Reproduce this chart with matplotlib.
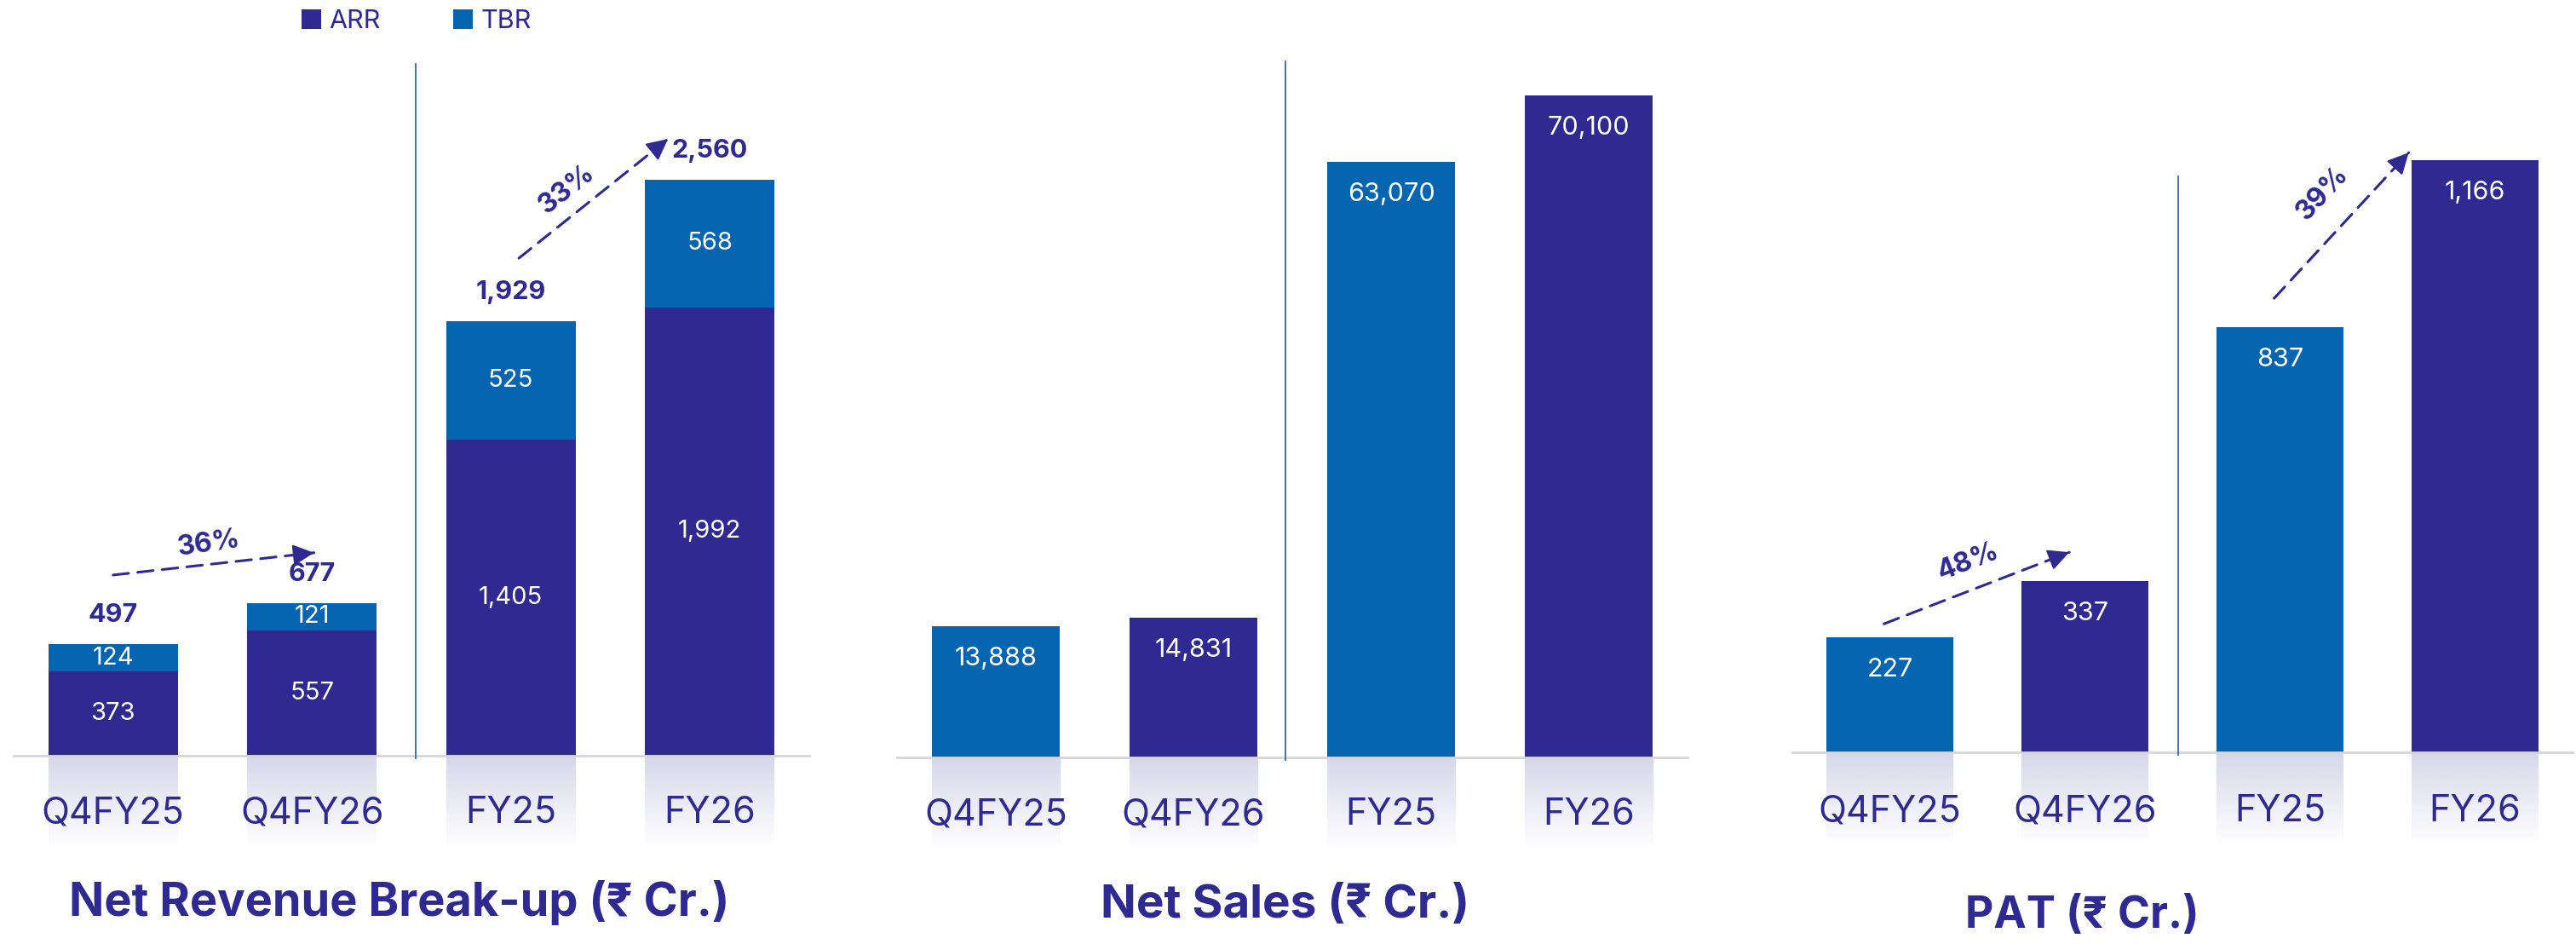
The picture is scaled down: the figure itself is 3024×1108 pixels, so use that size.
import numpy as np
import matplotlib
matplotlib.use('Agg')
import matplotlib.pyplot as plt
from matplotlib.patches import Patch

plt.rcParams['font.family'] = ['Inter', 'Noto Sans', 'DejaVu Sans']

DARK = '#2E2A92'
BLUE = '#0565B1'
AXIS_GRAY = '#D6D6DA'
DIV = '#3D66AE'

# ---------------- data ----------------
categories = ['Q4FY25', 'Q4FY26', 'FY25', 'FY26']
rev_arr = [373, 557, 1405, 1992]
rev_tbr = [124, 121, 525, 568]
rev_total = [497, 677, 1929, 2560]
net_sales = [13888, 14831, 63070, 70100]
pat = [227, 337, 837, 1166]
single_colors = [BLUE, DARK, BLUE, DARK]
rev_growth = ['36%', '33%']
pat_growth = ['48%', '39%']
titles = ['Net Revenue Break-up (₹ Cr.)', 'Net Sales (₹ Cr.)', 'PAT (₹ Cr.)']
legend_labels = ['ARR', 'TBR']

# ---------------- layout ----------------
W, H = 3024, 1108
PT = 0.72  # points per pixel at dpi 100
fig = plt.figure(figsize=(W / 100, H / 100), dpi=100)
fig.patch.set_facecolor('white')
BW = 0.65


def make_ax(left, width, baseline, scale):
    ax = fig.add_axes([left / W, (H - baseline) / H, width / W, baseline / H])
    ax.set_xlim(-0.5, 3.5)
    ax.set_ylim(0, baseline / scale)
    for s in ['top', 'right', 'left']:
        ax.spines[s].set_visible(False)
    ax.spines['bottom'].set_color(AXIS_GRAY)
    ax.spines['bottom'].set_linewidth(2.0)
    ax.spines['bottom'].set_zorder(3)
    ax.set_xticks([])
    ax.set_yticks([])
    ax.patch.set_alpha(0)
    return ax


def reflections(ax, scale, height_px=110):
    h = height_px / scale
    n = 64
    rgba = np.zeros((n, 1, 4))
    c = matplotlib.colors.to_rgb(DARK)
    rgba[:, 0, 0:3] = c
    rgba[:, 0, 3] = np.linspace(0.19, 0.0, n)
    for i in range(len(categories)):
        ax.imshow(rgba, extent=[i - BW / 2, i + BW / 2, -h, 0], origin='upper',
                  aspect='auto', clip_on=False, zorder=1, interpolation='bilinear')
    ax.set_xlim(-0.5, 3.5)


def cat_labels(ax, off_px=68):
    for i, c in enumerate(categories):
        ax.annotate(c, xy=(i, 0), xycoords=('data', 'axes fraction'),
                    xytext=(0, -off_px * PT), textcoords='offset points',
                    ha='center', va='center', fontsize=31, color=DARK, zorder=5)


def inside_labels(ax, vals, fs=22, off_px=38):
    for i, v in enumerate(vals):
        ax.annotate(f'{v:,}', xy=(i, v), xytext=(0, -off_px * PT),
                    textcoords='offset points', ha='center', va='center',
                    fontsize=fs, color='white', zorder=5)


def divider(ax, x, y_top, scale, below_px=3):
    ax.plot([x, x], [-below_px / scale, y_top], color=DIV, lw=1.3,
            clip_on=False, zorder=4)


def growth_arrow(ax, start, end, label, text_xy, rot):
    ax.annotate('', xy=end, xytext=start,
                arrowprops=dict(arrowstyle='-', ls=(0, (6, 3.5)), lw=2.2,
                                color=DARK, shrinkA=0, shrinkB=0), zorder=6)
    back = (end[0] - 0.03 * (end[0] - start[0]), end[1] - 0.03 * (end[1] - start[1]))
    ax.annotate('', xy=end, xytext=back,
                arrowprops=dict(arrowstyle='-|>,head_length=0.7,head_width=0.35',
                                lw=1.5, color=DARK, mutation_scale=22,
                                shrinkA=0, shrinkB=0), zorder=6)
    ax.text(text_xy[0], text_xy[1], label, rotation=rot, rotation_mode='anchor',
            ha='center', va='center', fontsize=23, fontweight='bold',
            color=DARK, zorder=6)


x = np.arange(len(categories))

# ---- Panel 1: Net Revenue Break-up (stacked) ----
s1 = 0.2641
ax1 = make_ax(16, 934, 887, s1)
reflections(ax1, s1)
ax1.bar(x, rev_arr, BW, color=DARK, zorder=2)
ax1.bar(x, rev_tbr, BW, bottom=rev_arr, color=BLUE, zorder=2)
for i in range(len(categories)):
    ax1.text(i, rev_arr[i] / 2, f'{rev_arr[i]:,}', ha='center', va='center',
             fontsize=21, color='white', zorder=5)
    ax1.text(i, rev_arr[i] + rev_tbr[i] / 2, f'{rev_tbr[i]:,}', ha='center',
             va='center', fontsize=21, color='white', zorder=5)
    ax1.annotate(f'{rev_total[i]:,}', xy=(i, rev_arr[i] + rev_tbr[i]),
                 xytext=(0, 34 * PT), textcoords='offset points', ha='center',
                 va='center', fontsize=22, fontweight='bold', color=DARK, zorder=5)
cat_labels(ax1)
divider(ax1, 1.52, (887 - 75) / s1, s1)
growth_arrow(ax1, (0.0, 803), (1.01, 902), rev_growth[0], (0.48, 940), 8)
growth_arrow(ax1, (2.04, 2211), (2.79, 2741), rev_growth[1], (2.28, 2515), 38)

# ---- Panel 2: Net Sales ----
s2 = 0.011084
ax2 = make_ax(1053, 928, 889, s2)
reflections(ax2, s2)
ax2.bar(x, net_sales, BW, color=single_colors, zorder=2)
inside_labels(ax2, net_sales)
cat_labels(ax2)
divider(ax2, 1.466, (889 - 72) / s2, s2)

# ---- Panel 3: PAT ----
s3 = 0.596
ax3 = make_ax(2104, 916, 883, s3)
reflections(ax3, s3)
ax3.bar(x, pat, BW, color=single_colors, zorder=2)
inside_labels(ax3, pat)
cat_labels(ax3, 70)
divider(ax3, 1.476, (883 - 207) / s3, s3)
growth_arrow(ax3, (-0.03, 253), (0.92, 394), pat_growth[0], (0.40, 375), 21)
growth_arrow(ax3, (1.97, 894), (2.66, 1181), pat_growth[1], (2.22, 1100), 47)

# ---- titles ----
for t, (tx, ty), fs in zip(titles, [(469, 1060), (1509, 1063), (2444, 1075)], [39, 39.5, 37]):
    fig.text(tx / W, 1 - ty / H, t, ha='center', va='center', fontsize=fs,
             fontweight='bold', color=DARK)

# ---- legend ----
handles = [Patch(facecolor=DARK, edgecolor='none'), Patch(facecolor=BLUE, edgecolor='none')]
fig.legend(handles, legend_labels, loc='center', bbox_to_anchor=(489 / W, 1 - 25 / H),
           ncol=2, frameon=False, fontsize=22, labelcolor=DARK,
           handlelength=0.75, handleheight=0.75, handletextpad=0.3,
           columnspacing=2.8, borderpad=0)

fig.savefig('out.png', dpi=100, facecolor='white')
